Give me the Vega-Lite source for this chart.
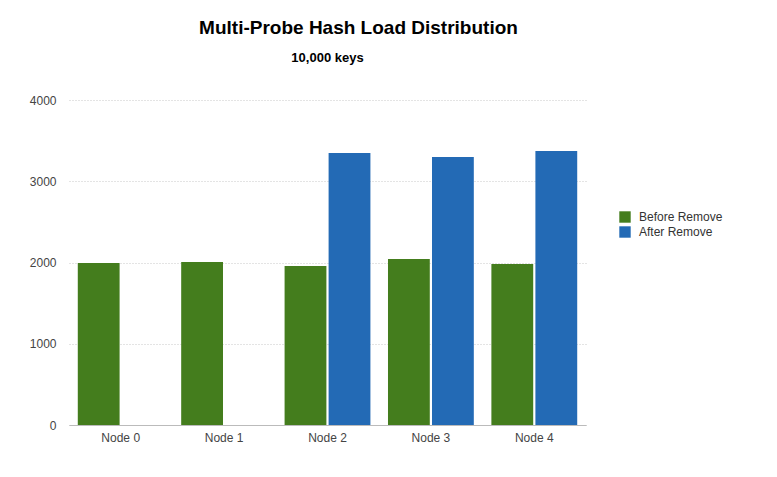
{
  "$schema": "https://vega.github.io/schema/vega-lite/v6.json",
  "width": 517,
  "height": 325,
  "padding": {"left": 29, "top": 19, "right": 5, "bottom": 5},
  "background": "white",
  "title": {
    "text": "Multi-Probe Hash Load Distribution",
    "subtitle": "10,000 keys",
    "anchor": "middle",
    "font": "Liberation Sans",
    "fontSize": 19,
    "fontWeight": "bold",
    "color": "#000000",
    "subtitleFont": "Liberation Sans",
    "subtitleFontSize": 13,
    "subtitleFontWeight": "bold",
    "subtitleColor": "#000000",
    "subtitlePadding": 14,
    "offset": 29,
    "dx": 31,
    "encode": {"subtitle": {"update": {"dx": {"value": 0}}}}
  },
  "data": {
    "values": [
      {"node": "Node 0", "series": "Before Remove", "load": 1994},
      {"node": "Node 1", "series": "Before Remove", "load": 2006},
      {"node": "Node 2", "series": "Before Remove", "load": 1957},
      {"node": "Node 3", "series": "Before Remove", "load": 2043},
      {"node": "Node 4", "series": "Before Remove", "load": 1982},
      {"node": "Node 0", "series": "After Remove", "load": 0},
      {"node": "Node 1", "series": "After Remove", "load": 0},
      {"node": "Node 2", "series": "After Remove", "load": 3348},
      {"node": "Node 3", "series": "After Remove", "load": 3298},
      {"node": "Node 4", "series": "After Remove", "load": 3372}
    ]
  },
  "mark": {"type": "bar"},
  "encoding": {
    "x": {
      "field": "node",
      "type": "nominal",
      "scale": {"paddingInner": 0.17, "paddingOuter": 0.085},
      "axis": {
        "title": null,
        "labelAngle": 0,
        "labelFont": "Liberation Sans",
        "labelFontSize": 12,
        "labelColor": "#444444",
        "labelPadding": 7,
        "ticks": false,
        "domainColor": "#bbbbbb",
        "domainWidth": 1
      }
    },
    "xOffset": {
      "field": "series",
      "type": "nominal",
      "sort": ["Before Remove", "After Remove"],
      "scale": {"paddingInner": 0.05}
    },
    "y": {
      "field": "load",
      "type": "quantitative",
      "scale": {"domain": [0, 4000]},
      "axis": {
        "title": null,
        "values": [0, 1000, 2000, 3000, 4000],
        "format": "d",
        "labelFont": "Liberation Sans",
        "labelFontSize": 12,
        "labelColor": "#444444",
        "labelPadding": 13,
        "ticks": false,
        "domain": false,
        "gridColor": "#c8c8c8",
        "gridDash": [1, 2],
        "gridWidth": 1
      }
    },
    "color": {
      "field": "series",
      "type": "nominal",
      "sort": ["Before Remove", "After Remove"],
      "scale": {"domain": ["Before Remove", "After Remove"], "range": ["#447d1d", "#236ab5"]},
      "legend": {
        "title": null,
        "orient": "none",
        "legendX": 550,
        "legendY": 111,
        "symbolType": "square",
        "symbolSize": 130,
        "symbolStrokeWidth": 0,
        "symbolOpacity": 1,
        "labelFont": "Liberation Sans",
        "labelFontSize": 12,
        "labelColor": "#333333",
        "labelOffset": 8,
        "rowPadding": 3
      }
    }
  },
  "config": {"view": {"stroke": null}}
}
